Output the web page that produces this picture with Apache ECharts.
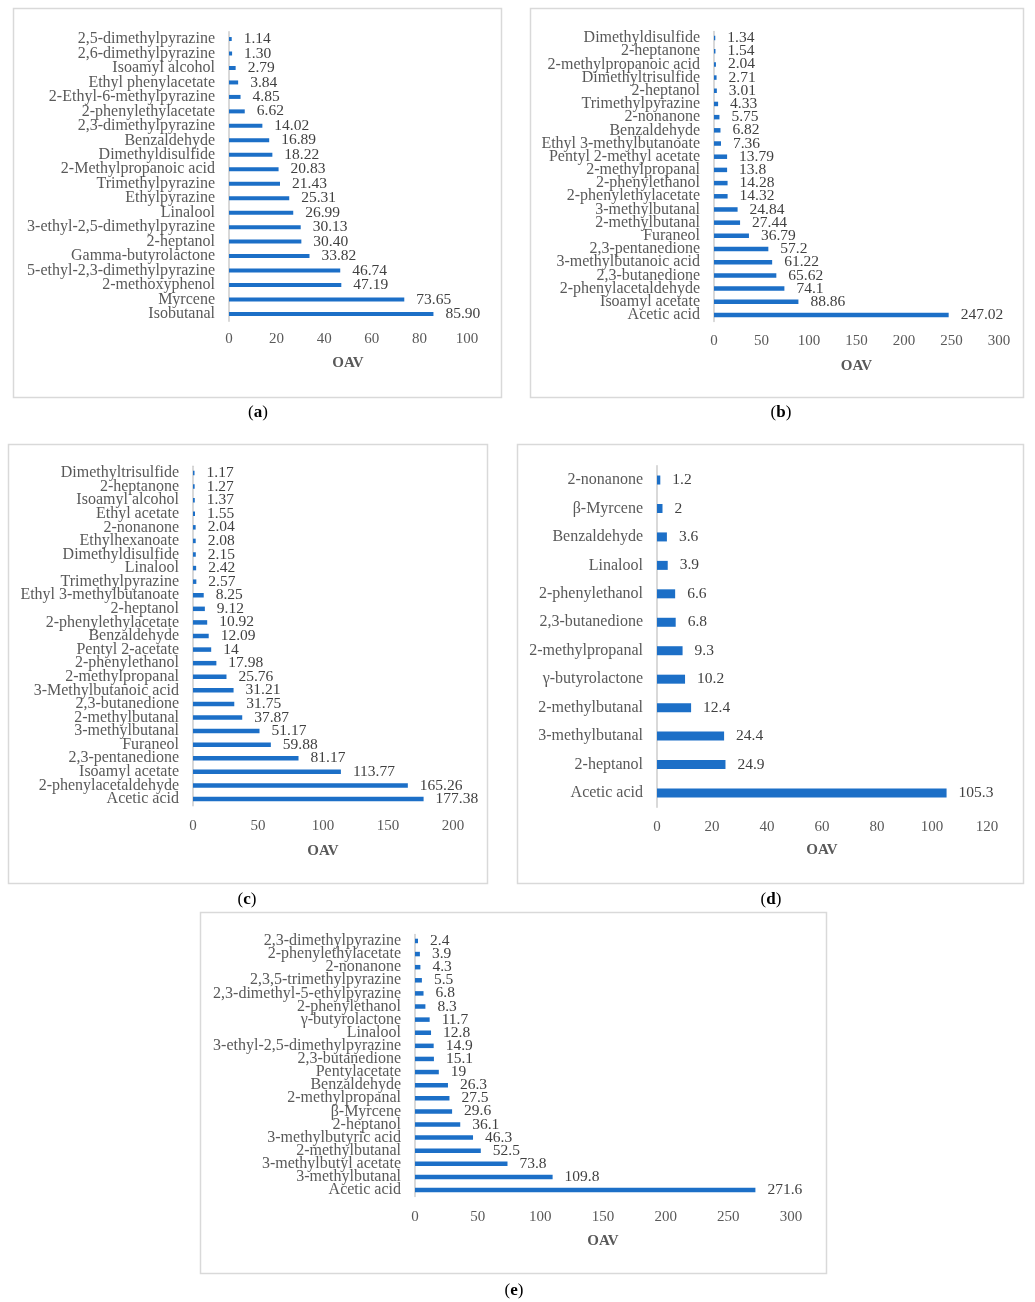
<!DOCTYPE html>
<html>
<head>
<meta charset="utf-8">
<title>OAV of key aroma compounds</title>
<script src="https://cdn.jsdelivr.net/npm/echarts@6/dist/echarts.min.js"></script>
<style>
  html, body { margin: 0; padding: 0; background: #ffffff; }
  #chart { width: 1035px; height: 1302px; }
</style>
</head>
<body>
<div id="chart"></div>
<script>
// Compounds listed top to bottom as they appear on each axis
const namesA = ['2,5-dimethylpyrazine', '2,6-dimethylpyrazine', 'Isoamyl alcohol', 'Ethyl phenylacetate',
  '2-Ethyl-6-methylpyrazine', '2-phenylethylacetate', '2,3-dimethylpyrazine', 'Benzaldehyde',
  'Dimethyldisulfide', '2-Methylpropanoic acid', 'Trimethylpyrazine', 'Ethylpyrazine', 'Linalool',
  '3-ethyl-2,5-dimethylpyrazine', '2-heptanol', 'Gamma-butyrolactone', '5-ethyl-2,3-dimethylpyrazine',
  '2-methoxyphenol', 'Myrcene', 'Isobutanal'];
const valuesA = [1.14, 1.30, 2.79, 3.84, 4.85, 6.62, 14.02, 16.89, 18.22, 20.83, 21.43, 25.31, 26.99,
  30.13, 30.40, 33.82, 46.74, 47.19, 73.65, 85.90];

const namesB = ['Dimethyldisulfide', '2-heptanone', '2-methylpropanoic acid', 'Dimethyltrisulfide',
  '2-heptanol', 'Trimethylpyrazine', '2-nonanone', 'Benzaldehyde', 'Ethyl 3-methylbutanoate',
  'Pentyl 2-methyl acetate', '2-methylpropanal', '2-phenylethanol', '2-phenylethylacetate',
  '3-methylbutanal', '2-methylbutanal', 'Furaneol', '2,3-pentanedione', '3-methylbutanoic acid',
  '2,3-butanedione', '2-phenylacetaldehyde', 'Isoamyl acetate', 'Acetic acid'];
const valuesB = [1.34, 1.54, 2.04, 2.71, 3.01, 4.33, 5.75, 6.82, 7.36, 13.79, 13.8, 14.28, 14.32,
  24.84, 27.44, 36.79, 57.2, 61.22, 65.62, 74.1, 88.86, 247.02];

const namesC = ['Dimethyltrisulfide', '2-heptanone', 'Isoamyl alcohol', 'Ethyl acetate', '2-nonanone',
  'Ethylhexanoate', 'Dimethyldisulfide', 'Linalool', 'Trimethylpyrazine', 'Ethyl 3-methylbutanoate',
  '2-heptanol', '2-phenylethylacetate', 'Benzaldehyde', 'Pentyl 2-acetate', '2-phenylethanol',
  '2-methylpropanal', '3-Methylbutanoic acid', '2,3-butanedione', '2-methylbutanal', '3-methylbutanal',
  'Furaneol', '2,3-pentanedione', 'Isoamyl acetate', '2-phenylacetaldehyde', 'Acetic acid'];
const valuesC = [1.17, 1.27, 1.37, 1.55, 2.04, 2.08, 2.15, 2.42, 2.57, 8.25, 9.12, 10.92, 12.09, 14,
  17.98, 25.76, 31.21, 31.75, 37.87, 51.17, 59.88, 81.17, 113.77, 165.26, 177.38];

const namesD = ['2-nonanone', 'β-Myrcene', 'Benzaldehyde', 'Linalool', '2-phenylethanol',
  '2,3-butanedione', '2-methylpropanal', 'γ-butyrolactone', '2-methylbutanal', '3-methylbutanal',
  '2-heptanol', 'Acetic acid'];
const valuesD = [1.2, 2, 3.6, 3.9, 6.6, 6.8, 9.3, 10.2, 12.4, 24.4, 24.9, 105.3];

const namesE = ['2,3-dimethylpyrazine', '2-phenylethylacetate', '2-nonanone', '2,3,5-trimethylpyrazine',
  '2,3-dimethyl-5-ethylpyrazine', '2-phenylethanol', 'γ-butyrolactone', 'Linalool',
  '3-ethyl-2,5-dimethylpyrazine', '2,3-butanedione', 'Pentylacetate', 'Benzaldehyde',
  '2-methylpropanal', 'β-Myrcene', '2-heptanol', '3-methylbutyric acid', '2-methylbutanal',
  '3-methylbutyl acetate', '3-methylbutanal', 'Acetic acid'];
const valuesE = [2.4, 3.9, 4.3, 5.5, 6.8, 8.3, 11.7, 12.8, 14.9, 15.1, 19, 26.3, 27.5, 29.6, 36.1,
  46.3, 52.5, 73.8, 109.8, 271.6];

// OAV axis ranges
const axisA = { max: 100, step: 20 };
const axisB = { max: 300, step: 50 };
const axisC = { max: 200, step: 50 };
const axisD = { max: 120, step: 20 };
const axisE = { max: 300, step: 50 };

const panelLetters = ['a', 'b', 'c', 'd', 'e'];
const axisTitle = 'OAV';

const SERIF = '"Liberation Serif", "Times New Roman", serif';
const BAR = '#1c6fc7';
const GREY = '#595959';
const FRAME = '#d9d9d9';

// Plot placement for each panel
const panels = [
  { names: namesA, values: valuesA, axis: axisA, fixed: 2,
    grid: { left: 229, top: 31.8, width: 238, height: 289.4 }, bar: 4, tickGap: 10, titleGap: 34,
    frame: [13, 8, 488, 389], tag: [258, 413] },
  { names: namesB, values: valuesB, axis: axisB, fixed: null,
    grid: { left: 714, top: 31.4, width: 285, height: 290.2 }, bar: 4.5, tickGap: 12, titleGap: 37,
    frame: [530, 8, 493, 389], tag: [781, 413] },
  { names: namesC, values: valuesC, axis: axisC, fixed: null,
    grid: { left: 193, top: 466.2, width: 260, height: 339.6 }, bar: 4.5, tickGap: 13, titleGap: 38,
    frame: [8, 444, 479, 439], tag: [247, 900] },
  { names: namesD, values: valuesD, axis: axisD, fixed: null,
    grid: { left: 657, top: 465.8, width: 330, height: 341.4 }, bar: 9, tickGap: 12, titleGap: 35,
    frame: [517, 444, 506, 439], tag: [771, 900] },
  { names: namesE, values: valuesE, axis: axisE, fixed: null,
    grid: { left: 415, top: 934.4, width: 376, height: 262.2 }, bar: 4.5, tickGap: 13, titleGap: 37,
    frame: [200, 912, 626, 361], tag: [514, 1291] }
];

const grids = [], xAxes = [], yAxes = [], series = [], graphics = [];

panels.forEach((p, i) => {
  grids.push(Object.assign({ outerBoundsMode: 'none', containLabel: false }, p.grid));

  xAxes.push({
    type: 'value', gridIndex: i, min: 0, max: p.axis.max, interval: p.axis.step,
    name: axisTitle, nameLocation: 'middle', nameGap: p.titleGap,
    nameTextStyle: { fontFamily: SERIF, fontSize: 15, fontWeight: 'bold', color: GREY },
    axisLine: { show: false }, axisTick: { show: false }, splitLine: { show: false },
    axisLabel: { fontFamily: SERIF, fontSize: 15, color: GREY, margin: p.tickGap }
  });

  yAxes.push({
    type: 'category', gridIndex: i, data: p.names, inverse: true,
    axisLine: { show: true, lineStyle: { color: '#cccccc', width: 1.5 } },
    axisTick: { show: false }, splitLine: { show: false },
    axisLabel: { interval: 0, fontFamily: SERIF, fontSize: 16, color: GREY, margin: 14 }
  });

  series.push({
    type: 'bar', xAxisIndex: i, yAxisIndex: i, data: p.values,
    barWidth: p.bar, itemStyle: { color: BAR }, silent: true, animation: false,
    label: {
      show: true, position: 'right', distance: 12,
      fontFamily: SERIF, fontSize: 15.5, color: '#404040',
      formatter: (d) => p.fixed != null ? d.value.toFixed(p.fixed) : String(d.value)
    }
  });

  const [fx, fy, fw, fh] = p.frame;
  graphics.push({
    type: 'rect', silent: true, z: -1,
    shape: { x: fx + 0.5, y: fy + 0.5, width: fw, height: fh },
    style: { fill: 'none', stroke: FRAME, lineWidth: 1.5 }
  });
  graphics.push({
    type: 'text', silent: true, x: p.tag[0], y: p.tag[1],
    style: {
      text: '{p|(}{b|' + panelLetters[i] + '}{p|)}',
      align: 'center', verticalAlign: 'middle',
      rich: {
        p: { fontFamily: SERIF, fontSize: 17, color: '#000' },
        b: { fontFamily: SERIF, fontSize: 17, fontWeight: 'bold', color: '#000' }
      }
    }
  });
});

const chart = echarts.init(document.getElementById('chart'), null, { renderer: 'canvas' });
chart.setOption({
  animation: false,
  backgroundColor: '#ffffff',
  grid: grids,
  xAxis: xAxes,
  yAxis: yAxes,
  series: series,
  graphic: graphics
});
</script>
</body>
</html>
